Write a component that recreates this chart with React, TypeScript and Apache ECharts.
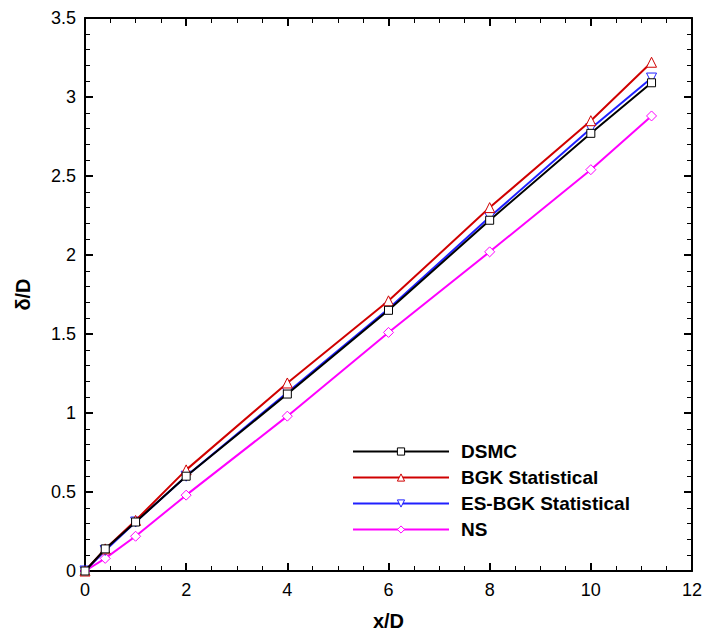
import React, { useEffect, useRef } from "react";
import * as echarts from "echarts";

const xValues = [0, 0.4, 1, 2, 4, 6, 8, 10, 11.2];
const dsmc = [0, 0.14, 0.31, 0.6, 1.12, 1.65, 2.22, 2.77, 3.09];
const bgk = [0, 0.14, 0.32, 0.64, 1.19, 1.71, 2.3, 2.85, 3.22];
const esbgk = [0, 0.13, 0.31, 0.6, 1.13, 1.66, 2.24, 2.8, 3.12];
const ns = [0, 0.08, 0.22, 0.48, 0.98, 1.51, 2.02, 2.54, 2.88];

const seriesNames = ["DSMC", "BGK Statistical", "ES-BGK Statistical", "NS"];
const seriesColors = ["#000000", "#d00000", "#2020ff", "#ff00ff"];
const seriesSymbols = ["rect", "triangle", "triangle", "diamond"];
const seriesRotate = [0, 0, 180, 0];
const seriesData = [dsmc, bgk, esbgk, ns];

const FONT = "Liberation Sans, Arial, sans-serif";

export default function App() {
  const ref = useRef<HTMLDivElement>(null);
  useEffect(() => {
    if (!ref.current) return;
    const chart = echarts.init(ref.current, null, { renderer: "svg" });
    const axisCommon = {
      axisLine: { show: true, onZero: false, lineStyle: { color: "#000", width: 2 } },
      axisTick: { show: true, inside: true, length: 8, lineStyle: { color: "#000", width: 2 } },
      minorTick: { show: true, length: 5, lineStyle: { color: "#000", width: 1 } },
      splitLine: { show: false },
      minorSplitLine: { show: false },
    };
    const series = seriesNames.map((name, i) => ({
      name,
      type: "line",
      data: xValues.map((x, j) => [x, seriesData[i][j]]),
      xAxisIndex: 0,
      yAxisIndex: 0,
      symbol: seriesSymbols[i],
      symbolRotate: seriesRotate[i],
      symbolSize: i === 0 ? 8 : 10,
      showAllSymbol: true,
      lineStyle: { color: seriesColors[i], width: 2 },
      itemStyle: { color: "#fff", borderColor: seriesColors[i], borderWidth: 1 },
      z: 10 - i,
    }));
    chart.setOption({
      animation: false,
      backgroundColor: "#fff",
      grid: { left: 85, right: 15, top: 18, bottom: 70 },
      legend: {
        orient: "vertical",
        left: 347,
        top: 435,
        itemWidth: 96,
        itemHeight: 9,
        itemGap: 3,
        textStyle: {
          fontFamily: FONT,
          fontSize: 19,
          fontWeight: "bold",
          color: "#000",
          lineHeight: 23,
          padding: [0, 0, 0, 7],
        },
        data: seriesNames.map((n, i) => ({
          name: n,
          itemStyle: { color: "#fff", borderColor: seriesColors[i], borderWidth: 1 },
        })),
      },
      xAxis: [
        {
          type: "value",
          min: 0,
          max: 12,
          interval: 2,
          position: "bottom",
          name: "x/D",
          nameLocation: "middle",
          nameGap: 40,
          nameTextStyle: { fontFamily: FONT, fontSize: 20, fontWeight: "bold", color: "#000" },
          axisLabel: { fontFamily: FONT, fontSize: 18, color: "#000", margin: 10 },
          ...axisCommon,
          minorTick: { ...axisCommon.minorTick, splitNumber: 4 },
        },
        {
          type: "value",
          min: 0,
          max: 12,
          interval: 2,
          position: "top",
          axisLabel: { show: false },
          ...axisCommon,
          minorTick: { ...axisCommon.minorTick, splitNumber: 4 },
        },
      ],
      yAxis: [
        {
          type: "value",
          min: 0,
          max: 3.5,
          interval: 0.5,
          position: "left",
          name: "δ/D",
          nameLocation: "middle",
          nameGap: 52,
          nameRotate: 90,
          nameTextStyle: { fontFamily: FONT, fontSize: 20, fontWeight: "bold", color: "#000" },
          axisLabel: { fontFamily: FONT, fontSize: 18, color: "#000", margin: 9 },
          ...axisCommon,
          minorTick: { ...axisCommon.minorTick, splitNumber: 5 },
        },
        {
          type: "value",
          min: 0,
          max: 3.5,
          interval: 0.5,
          position: "right",
          axisLabel: { show: false },
          ...axisCommon,
          minorTick: { ...axisCommon.minorTick, splitNumber: 5 },
        },
      ],
      series,
    });
    return () => chart.dispose();
  }, []);
  return <div ref={ref} style={{ width: 707, height: 641, position: "absolute", left: 0, top: 0 }} />;
}
